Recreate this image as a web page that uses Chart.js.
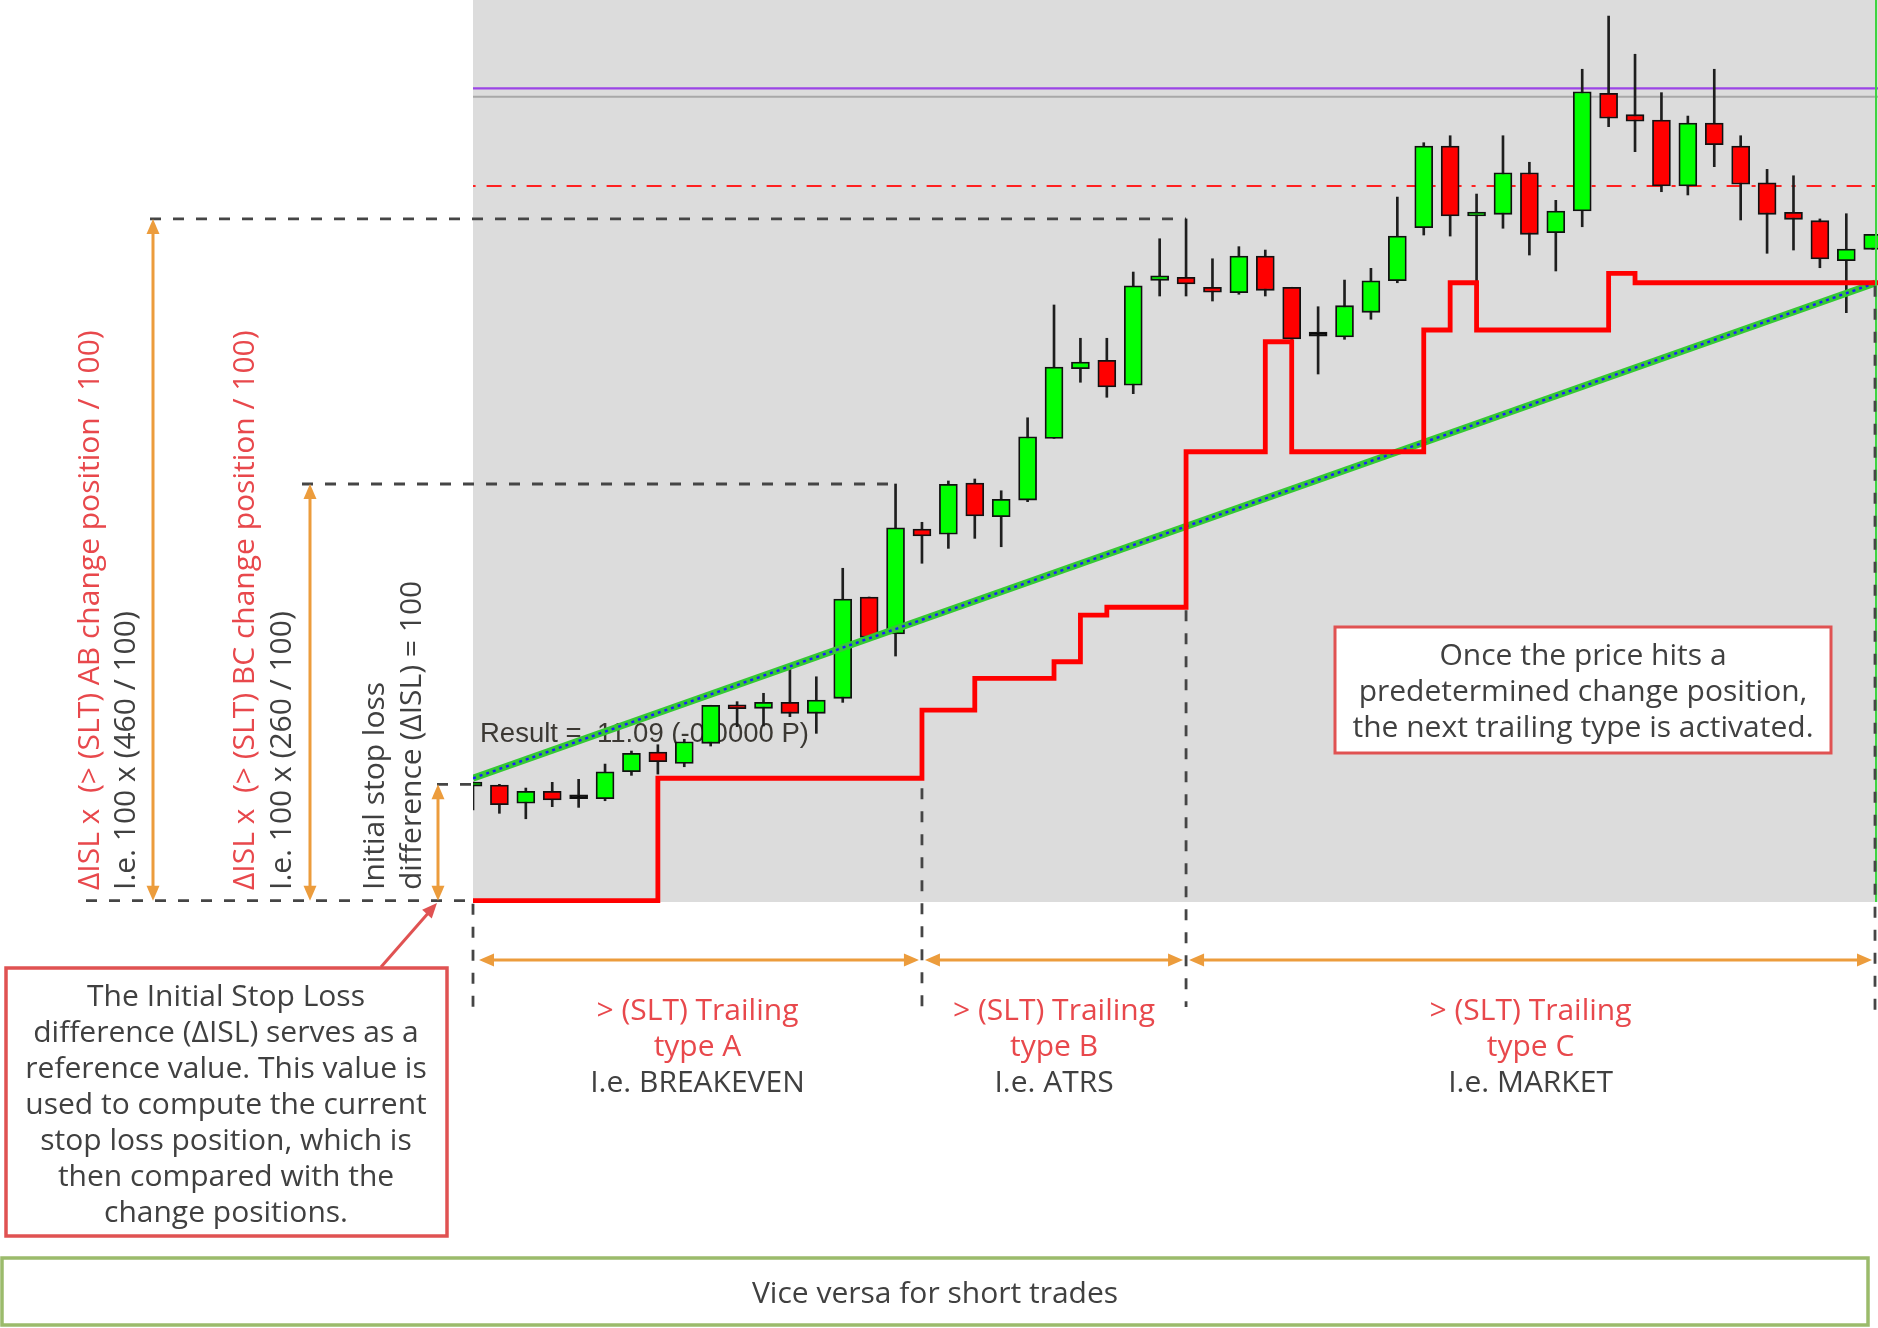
<!DOCTYPE html>
<html>
<head>
<meta charset="utf-8">
<style>
  html, body { margin: 0; padding: 0; background: #fff; }
  #wrap { width: 1878px; height: 1328px; }
</style>
<script src="https://cdn.jsdelivr.net/npm/chart.js@4.4.1/dist/chart.umd.min.js"></script>
</head>
<body>
<div id="wrap"><canvas id="trail" width="1878" height="1328"></canvas></div>
<script>
// ---------------------------------------------
// candle data (price units: initial SL = 1000, entry = 1100)
// ---------------------------------------------
const openP = [1098.5, 1099.4, 1083.7, 1094.0, 1087.6, 1087.6, 1110.8, 1127.7, 1118.0, 1135.2,
  1167.5, 1165.3, 1170.4, 1161.0, 1173.9, 1260.9, 1229.1, 1319.3, 1314.8, 1358.8,
  1329.9, 1344.2, 1397.2, 1457.0, 1464.3, 1442.8, 1533.0, 1535.6, 1527.0, 1522.3,
  1553.9, 1527.0, 1485.1, 1484.3, 1505.5, 1532.6, 1578.2, 1648.4, 1588.2, 1589.7,
  1625.4, 1573.9, 1592.5, 1693.6, 1675.3, 1670.7, 1614.0, 1668.1, 1648.4, 1616.8,
  1591.4, 1584.2, 1549.8, 1559.6];
const closeP = [1102.0, 1082.5, 1094.0, 1086.5, 1087.6, 1110.8, 1126.6, 1119.4, 1136.6, 1167.9,
  1164.9, 1170.4, 1161.0, 1172.4, 1259.2, 1226.3, 1320.4, 1313.3, 1357.7, 1330.5,
  1344.8, 1398.6, 1458.5, 1462.8, 1441.3, 1528.3, 1536.9, 1529.8, 1522.7, 1553.9,
  1524.4, 1482.6, 1485.1, 1511.2, 1532.6, 1571.0, 1648.4, 1588.2, 1591.4, 1625.4,
  1572.5, 1592.5, 1695.0, 1672.2, 1669.6, 1614.0, 1668.1, 1649.5, 1615.5, 1589.7,
  1585.4, 1551.3, 1559.9, 1572.5];
const highP = [1102.0, 1100.0, 1096.8, 1101.7, 1104.3, 1117.4, 1128.6, 1134.0, 1138.7, 1167.9,
  1171.0, 1178.2, 1202.5, 1192.4, 1285.6, 1260.9, 1358.0, 1325.1, 1360.6, 1362.3,
  1352.2, 1414.9, 1511.8, 1483.2, 1483.2, 1540.1, 1568.7, 1585.7, 1551.5, 1561.9,
  1559.0, 1527.0, 1510.3, 1533.2, 1543.3, 1604.5, 1651.2, 1657.2, 1607.1, 1657.2,
  1634.4, 1601.7, 1714.3, 1760.0, 1727.2, 1694.2, 1674.1, 1714.3, 1657.2, 1628.3,
  1622.8, 1585.7, 1590.2, 1572.5];
const lowP = [1077.9, 1075.1, 1070.4, 1080.8, 1080.2, 1085.9, 1107.7, 1108.8, 1115.1, 1132.9,
  1149.5, 1150.1, 1158.1, 1143.8, 1170.4, 1223.4, 1210.2, 1289.9, 1302.7, 1311.3,
  1304.1, 1342.8, 1397.2, 1445.4, 1432.5, 1435.6, 1519.5, 1519.5, 1515.2, 1521.0,
  1519.5, 1479.7, 1452.5, 1482.3, 1499.5, 1530.9, 1571.9, 1571.0, 1531.8, 1577.7,
  1554.7, 1541.0, 1579.0, 1665.0, 1643.5, 1609.1, 1606.3, 1630.6, 1584.8, 1556.2,
  1559.0, 1543.8, 1505.2, 1559.6];

// stop loss trail (value holds from that bar until the next one)
const slBar = [0, 7, 17, 19, 22, 23, 24, 27, 30, 31, 36, 37, 38, 43, 44, 53.2];
const slLevel = [1000, 1105.2, 1163.8, 1191.1, 1205.3, 1245.4, 1252.1, 1385.7, 1480.2, 1385.7,
  1490.3, 1530.9, 1490.3, 1539.0, 1530.9, 1530.9];

// trend line (start / end)
const trendBar = [0, 53.1];
const trendLevel = [1105.2, 1530.7];

// fixed levels
const islLevel = 1000;
const entryLevel = 1100;
const bcLevel = 1358.0;
const abLevel = 1585.7;
const purpleLevel = 1697.9;
const greyLevel = 1690.7;
const dashDotLevel = 1614.0;

const X_MIN = 0, X_MAX = 53.2;
const Y_MIN = 998.9, Y_MAX = 1773.8;

const RED_TXT = '#e8484c';
const DARK_TXT = '#404040';
const ORANGE = '#ec9c3c';
const FONT = '30px "Open Sans"';

// =========================================
// helpers for the drawing around the chart
// =========================================
function dashed(ctx, x1, y1, x2, y2) {
    ctx.save();
    ctx.strokeStyle = '#454545';
    ctx.lineWidth = 2.8;
    ctx.setLineDash([11, 12]);
    ctx.beginPath();
    ctx.moveTo(x1, y1);
    ctx.lineTo(x2, y2);
    ctx.stroke();
    ctx.restore();
}

function head(ctx, x, y, ang, color, len, half) {
    ctx.save();
    ctx.translate(x, y);
    ctx.rotate(ang);
    ctx.fillStyle = color;
    ctx.beginPath();
    ctx.moveTo(0, 0);
    ctx.lineTo(-len, -half);
    ctx.lineTo(-len, half);
    ctx.closePath();
    ctx.fill();
    ctx.restore();
}

function arrow2(ctx, x1, y1, x2, y2) {
    const ang = Math.atan2(y2 - y1, x2 - x1);
    const c = Math.cos(ang), s = Math.sin(ang);
    ctx.save();
    ctx.strokeStyle = ORANGE;
    ctx.lineWidth = 3;
    ctx.beginPath();
    ctx.moveTo(x1 + c * 8, y1 + s * 8);
    ctx.lineTo(x2 - c * 8, y2 - s * 8);
    ctx.stroke();
    head(ctx, x2, y2, ang, ORANGE, 15, 6.5);
    head(ctx, x1, y1, ang + Math.PI, ORANGE, 15, 6.5);
    ctx.restore();
}

function vtext(ctx, str, cx, bottom, color) {
    ctx.save();
    ctx.translate(cx, bottom);
    ctx.rotate(-Math.PI / 2);
    ctx.font = FONT;
    ctx.fillStyle = color;
    ctx.textAlign = 'left';
    ctx.textBaseline = 'middle';
    ctx.fillText(str, 0, 0);
    ctx.restore();
}

function lines(ctx, arr, cx, y0, step) {
    ctx.save();
    ctx.font = FONT;
    ctx.textAlign = 'center';
    ctx.textBaseline = 'middle';
    arr.forEach((l, k) => {
        ctx.fillStyle = l[1];
        ctx.fillText(l[0], cx, y0 + k * step);
    });
    ctx.restore();
}

const annot = {
    id: 'annot',
    beforeDraw(chart) {
        const { ctx, chartArea: a } = chart;
        ctx.save();
        ctx.fillStyle = '#ffffff';
        ctx.fillRect(0, 0, chart.width, chart.height);
        ctx.fillStyle = '#dcdcdc';
        ctx.fillRect(a.left, a.top, a.right - a.left, a.bottom - a.top);
        ctx.restore();
    },
    beforeDatasetsDraw(chart) {
        const { ctx, chartArea: a, scales } = chart;
        const xs = v => scales.x.getPixelForValue(v);
        const ys = v => scales.y.getPixelForValue(v);

        // result label of the platform
        ctx.save();
        ctx.font = '27.5px "Liberation Sans", Arial';
        ctx.fillStyle = '#3b3833';
        ctx.textBaseline = 'alphabetic';
        ctx.fillText('Result =  11.09 (-0.0000 P)', 480, 742);
        ctx.restore();

        // change position levels
        dashed(ctx, 150, ys(abLevel), xs(27), ys(abLevel));
        dashed(ctx, 302, ys(bcLevel), xs(16), ys(bcLevel));
        dashed(ctx, 437, ys(entryLevel), a.left, ys(entryLevel));
        dashed(ctx, 86, ys(islLevel), a.left, ys(islLevel));
    },
    afterDraw(chart) {
        const { ctx, chartArea: a, scales } = chart;
        const xs = v => scales.x.getPixelForValue(v);
        const ys = v => scales.y.getPixelForValue(v);

        // green border on the right edge
        ctx.save();
        ctx.strokeStyle = '#3fd43f';
        ctx.lineWidth = 2;
        ctx.beginPath();
        ctx.moveTo(a.right - 2, a.top);
        ctx.lineTo(a.right - 2, a.bottom);
        ctx.stroke();
        ctx.restore();

        // vertical arrows on the left
        arrow2(ctx, 153, ys(abLevel), 153, ys(islLevel));
        arrow2(ctx, 310, ys(bcLevel), 310, ys(islLevel));
        arrow2(ctx, 438, ys(entryLevel), 438, ys(islLevel));

        // rotated labels
        vtext(ctx, 'ΔISL x  (> (SLT) AB change position / 100)', 90, 890, RED_TXT);
        vtext(ctx, 'I.e. 100 x (460 / 100)', 126, 890, DARK_TXT);
        vtext(ctx, 'ΔISL x  (> (SLT) BC change position / 100)', 245, 890, RED_TXT);
        vtext(ctx, 'I.e. 100 x (260 / 100)', 282, 890, DARK_TXT);
        vtext(ctx, 'Initial stop loss', 375, 890, DARK_TXT);
        vtext(ctx, 'difference (ΔISL) = 100', 412, 890, DARK_TXT);

        // switch points
        const xA = xs(0), xB = xs(17), xC = xs(27), xE = a.right - 3;
        dashed(ctx, xA, ys(islLevel) + 3, xA, 1017);
        dashed(ctx, xB, ys(slLevel[1]) + 10, xB, 1010);
        dashed(ctx, xC, ys(slLevel[6]) + 3, xC, 1007);
        dashed(ctx, xE, ys(slLevel[15]) + 3, xE, 1012);

        const yArr = 960;
        arrow2(ctx, xA + 6, yArr, xB - 3, yArr);
        arrow2(ctx, xB + 3, yArr, xC - 3, yArr);
        arrow2(ctx, xC + 3, yArr, xE - 3, yArr);

        lines(ctx, [['> (SLT) Trailing', RED_TXT], ['type A', RED_TXT], ['I.e. BREAKEVEN', DARK_TXT]], (xA + xB) / 2, 1011.5, 36);
        lines(ctx, [['> (SLT) Trailing', RED_TXT], ['type B', RED_TXT], ['I.e. ATRS', DARK_TXT]], (xB + xC) / 2, 1011.5, 36);
        lines(ctx, [['> (SLT) Trailing', RED_TXT], ['type C', RED_TXT], ['I.e. MARKET', DARK_TXT]], (xC + xE) / 2, 1011.5, 36);

        // box: initial stop loss
        ctx.save();
        ctx.strokeStyle = '#e05252';
        ctx.lineWidth = 3;
        ctx.beginPath();
        ctx.moveTo(381, 967);
        ctx.lineTo(430, 911);
        ctx.stroke();
        head(ctx, 437, 903, Math.atan2(-62, 56), '#e05252', 15, 6.5);
        ctx.fillStyle = '#ffffff';
        ctx.fillRect(6, 968, 441, 268);
        ctx.lineWidth = 3.5;
        ctx.strokeRect(6, 968, 441, 268);
        ctx.restore();
        lines(ctx, [
            ['The Initial Stop Loss', DARK_TXT],
            ['difference (ΔISL) serves as a', DARK_TXT],
            ['reference value. This value is', DARK_TXT],
            ['used to compute the current', DARK_TXT],
            ['stop loss position, which is', DARK_TXT],
            ['then compared with the', DARK_TXT],
            ['change positions.', DARK_TXT]
        ], 226, 997.5, 36);

        // box: change position note
        ctx.save();
        ctx.fillStyle = '#ffffff';
        ctx.fillRect(1335, 627, 496, 126);
        ctx.strokeStyle = '#e05252';
        ctx.lineWidth = 3;
        ctx.strokeRect(1335, 627, 496, 126);
        ctx.restore();
        lines(ctx, [
            ['Once the price hits a', DARK_TXT],
            ['predetermined change position,', DARK_TXT],
            ['the next trailing type is activated.', DARK_TXT]
        ], 1583, 656.5, 36);

        // bottom note
        ctx.save();
        ctx.strokeStyle = '#9bbb6b';
        ctx.lineWidth = 3.5;
        ctx.strokeRect(2, 1258, 1866, 67);
        ctx.restore();
        lines(ctx, [['Vice versa for short trades', DARK_TXT]], 935, 1294.5, 36);
    }
};

// =========================================
// chart
// =========================================
const bars = openP.map((o, i) => i);
const bodyColor = openP.map((o, i) => closeP[i] > o ? '#00ff00' : (closeP[i] < o ? '#ff0000' : '#000000'));
const flat = (lvl) => [{ x: X_MIN - 1, y: lvl }, { x: X_MAX + 1, y: lvl }];

new Chart(document.getElementById('trail'), {
    type: 'bar',
    data: {
        datasets: [
            {
                type: 'line', label: 'purple', data: flat(purpleLevel),
                borderColor: '#9b45e6', borderWidth: 2.2, pointRadius: 0, order: 9, clip: 0
            },
            {
                type: 'line', label: 'grey', data: flat(greyLevel),
                borderColor: '#a8a8a8', borderWidth: 2, pointRadius: 0, order: 9, clip: 0
            },
            {
                type: 'line', label: 'dashdot', data: flat(dashDotLevel),
                borderColor: '#ff2020', borderWidth: 2, borderDash: [15, 10, 4, 11], pointRadius: 0, order: 9, clip: 0
            },
            {
                label: 'wick', data: bars.map(i => ({ x: i, y: [lowP[i], highP[i]] })),
                backgroundColor: '#1e1e1e', barThickness: 2, grouped: false, order: 6, clip: 0
            },
            {
                label: 'body', data: bars.map(i => ({ x: i, y: [openP[i], closeP[i]] })),
                backgroundColor: bodyColor, borderColor: '#111111', borderWidth: 1.8, borderSkipped: false,
                barThickness: 18, minBarLength: 4, grouped: false, order: 5, clip: 0
            },
            {
                type: 'line', label: 'trend', data: trendBar.map((b, k) => ({ x: b, y: trendLevel[k] })),
                borderColor: '#34c934', borderWidth: 7, pointRadius: 0, order: 3, clip: 0
            },
            {
                type: 'line', label: 'trend dots', data: trendBar.map((b, k) => ({ x: b, y: trendLevel[k] })),
                borderColor: '#1b1bff', borderWidth: 2.4, borderDash: [3, 4], pointRadius: 0, order: 2, clip: 0
            },
            {
                type: 'line', label: 'stop loss', data: slBar.map((b, k) => ({ x: b, y: slLevel[k] })),
                stepped: 'before', borderColor: '#ff0000', borderWidth: 4.8, pointRadius: 0, order: 1,
                clip: { left: 0, top: 0, right: 0, bottom: 3 }
            }
        ]
    },
    options: {
        responsive: false,
        animation: false,
        devicePixelRatio: 1,
        events: [],
        layout: { padding: { left: 473, right: 0, top: 0, bottom: 426 } },
        plugins: { legend: { display: false }, tooltip: { enabled: false } },
        scales: {
            x: { type: 'linear', min: X_MIN, max: X_MAX, offset: false, display: false, grid: { display: false, offset: false } },
            y: { type: 'linear', min: Y_MIN, max: Y_MAX, display: false, grid: { display: false } }
        }
    },
    plugins: [annot]
});
</script>
</body>
</html>
